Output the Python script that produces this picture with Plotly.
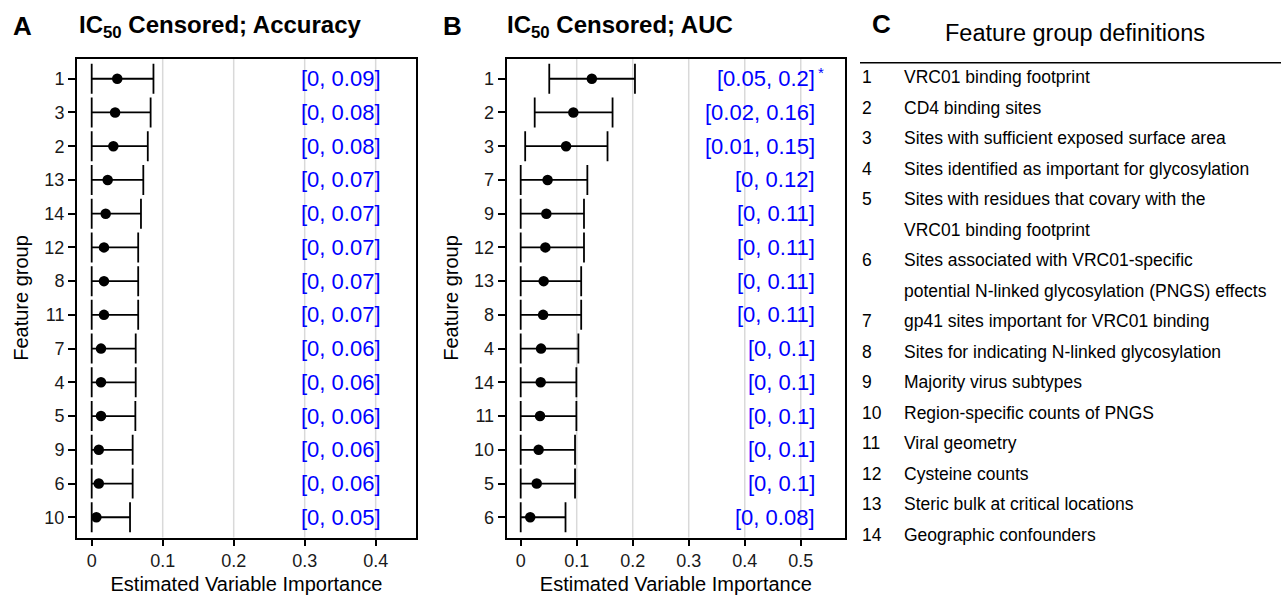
import plotly.graph_objects as go

W, H = 1281, 595
FONT = "Liberation Sans, Arial, Helvetica, sans-serif"

# ---------------- data ----------------
# Panel A : IC50 censored; accuracy (rows top -> bottom)
a_groups = ["1", "3", "2", "13", "14", "12", "8", "11", "7", "4", "5", "9", "6", "10"]
a_est = [0.036, 0.033, 0.0305, 0.0225, 0.0197, 0.0173, 0.0173, 0.0173, 0.0131, 0.0131, 0.0131, 0.010, 0.010, 0.0066]
a_lower = [0, 0, 0, 0, 0, 0, 0, 0, 0, 0, 0, 0, 0, 0]
a_upper = [0.087, 0.083, 0.079, 0.0727, 0.0694, 0.0655, 0.0655, 0.0655, 0.062, 0.062, 0.0615, 0.0577, 0.0577, 0.054]
a_labels = ["[0, 0.09]", "[0, 0.08]", "[0, 0.08]", "[0, 0.07]", "[0, 0.07]", "[0, 0.07]", "[0, 0.07]",
            "[0, 0.07]", "[0, 0.06]", "[0, 0.06]", "[0, 0.06]", "[0, 0.06]", "[0, 0.06]", "[0, 0.05]"]
a_stars = ["", "", "", "", "", "", "", "", "", "", "", "", "", ""]

# Panel B : IC50 censored; AUC
b_groups = ["1", "2", "3", "7", "9", "12", "13", "8", "4", "14", "11", "10", "5", "6"]
b_est = [0.127, 0.094, 0.081, 0.048, 0.0458, 0.044, 0.041, 0.040, 0.0363, 0.0357, 0.0345, 0.032, 0.0286, 0.017]
b_lower = [0.051, 0.025, 0.008, 0, 0, 0, 0, 0, 0, 0, 0, 0, 0, 0]
b_upper = [0.204, 0.164, 0.155, 0.119, 0.113, 0.113, 0.108, 0.108, 0.103, 0.0994, 0.0994, 0.097, 0.097, 0.080]
b_labels = ["[0.05, 0.2]", "[0.02, 0.16]", "[0.01, 0.15]", "[0, 0.12]", "[0, 0.11]", "[0, 0.11]", "[0, 0.11]",
            "[0, 0.11]", "[0, 0.1]", "[0, 0.1]", "[0, 0.1]", "[0, 0.1]", "[0, 0.1]", "[0, 0.08]"]
b_stars = ["*", "", "", "", "", "", "", "", "", "", "", "", "", ""]

a_ticks = [0, 0.1, 0.2, 0.3, 0.4]
b_ticks = [0, 0.1, 0.2, 0.3, 0.4, 0.5]
a_grid = [0.1, 0.2, 0.3, 0.4]
b_grid = [0.1, 0.2, 0.3, 0.4, 0.5]

# Panel C : definitions
def_ids = ["1", "2", "3", "4", "5", "6", "7", "8", "9", "10", "11", "12", "13", "14"]
def_lines = [
    ["VRC01 binding footprint"],
    ["CD4 binding sites"],
    ["Sites with sufficient exposed surface area"],
    ["Sites identified as important for glycosylation"],
    ["Sites with residues that covary with the", "VRC01 binding footprint"],
    ["Sites associated with VRC01-specific", "potential N-linked glycosylation (PNGS) effects"],
    ["gp41 sites important for VRC01 binding"],
    ["Sites for indicating N-linked glycosylation"],
    ["Majority virus subtypes"],
    ["Region-specific counts of PNGS"],
    ["Viral geometry"],
    ["Cysteine counts"],
    ["Steric bulk at critical locations"],
    ["Geographic confounders"],
]

# ---------------- layout helpers ----------------
def px_x(p):
    return p / W

def px_y(p):
    return 1 - p / H

TOP, BOT = 58.5, 537.5
panels = [
    dict(groups=a_groups, est=a_est, lo=a_lower, hi=a_upper, labels=a_labels, stars=a_stars,
         ticks=a_ticks, grid=a_grid, dom=(77, 416), rng=(-0.0207, 0.4568), lab_x=0.41,
         letter="A", letter_x=11, title="IC<sub>50</sub> Censored; Accuracy", title_x=77),
    dict(groups=b_groups, est=b_est, lo=b_lower, hi=b_upper, labels=b_labels, stars=b_stars,
         ticks=b_ticks, grid=b_grid, dom=(506.7, 845), rng=(-0.025, 0.579), lab_x=0.5286,
         letter="B", letter_x=441, title="IC<sub>50</sub> Censored; AUC", title_x=505),
]

fig = go.Figure()
annotations = []
shapes = []

for i, p in enumerate(panels, start=1):
    xa = "x" if i == 1 else f"x{i}"
    ya = "y" if i == 1 else f"y{i}"
    xkey = "xaxis" if i == 1 else f"xaxis{i}"
    ykey = "yaxis" if i == 1 else f"yaxis{i}"

    plus = [h - e for h, e in zip(p["hi"], p["est"])]
    minus = [e - l for e, l in zip(p["est"], p["lo"])]
    fig.add_trace(go.Scatter(
        x=p["est"], y=p["groups"], mode="markers", xaxis=xa, yaxis=ya,
        marker=dict(color="black", size=10.5),
        error_x=dict(type="data", symmetric=False, array=plus, arrayminus=minus,
                     color="black", thickness=1.8, width=15),
        showlegend=False, hoverinfo="skip"))

    n = len(p["groups"])
    fig.update_layout({
        xkey: dict(domain=[px_x(p["dom"][0]), px_x(p["dom"][1])], range=list(p["rng"]),
                   anchor=ya, tickvals=p["ticks"], ticktext=[f"{t:g}" for t in p["ticks"]],
                   showgrid=False, zeroline=False, showline=True, mirror=True,
                   linecolor="black", linewidth=2, ticks="outside", ticklen=6, tickwidth=1.5,
                   tickcolor="black", tickfont=dict(size=18, color="#1a1a1a", family=FONT),
                   title=dict(text="Estimated Variable Importance", standoff=9,
                              font=dict(size=20, color="black", family=FONT))),
        ykey: dict(domain=[px_y(BOT), px_y(TOP)], anchor=xa, type="category",
                   categoryorder="array", categoryarray=p["groups"],
                   range=[n - 1 + 0.6, -0.6], showgrid=False, zeroline=False,
                   showline=True, mirror=True, linecolor="black", linewidth=2,
                   ticks="outside", ticklen=7, tickwidth=1.5, tickcolor="black",
                   tickfont=dict(size=18, color="#1a1a1a", family=FONT),
                   title=dict(text="Feature group", standoff=10,
                              font=dict(size=20, color="black", family=FONT))),
    })

    for g in p["grid"]:
        shapes.append(dict(type="line", xref=xa, yref=f"{ya} domain", x0=g, x1=g, y0=0, y1=1,
                           line=dict(color="#d9d9d9", width=1.5), layer="below"))

    # annotations on a category axis are placed by category index
    for idx, (lab, st) in enumerate(zip(p["labels"], p["stars"])):
        annotations.append(dict(xref=xa, yref=ya, x=p["lab_x"], y=idx, text=lab, showarrow=False,
                                xanchor="right", yanchor="middle",
                                font=dict(size=22, color="#0000ff", family=FONT)))
        if st:
            annotations.append(dict(xref=xa, yref=ya, x=p["lab_x"], y=idx, text=st, showarrow=False,
                                    xanchor="left", yanchor="middle", yshift=6, xshift=-1,
                                    font=dict(size=15, color="#0000ff", family=FONT)))

    annotations.append(dict(xref="paper", yref="paper", x=px_x(p["letter_x"]), y=px_y(26),
                            text=f"<b>{p['letter']}</b>", showarrow=False, xanchor="left",
                            yanchor="middle", font=dict(size=26, color="black", family=FONT)))
    annotations.append(dict(xref="paper", yref="paper", x=px_x(p["title_x"]), y=px_y(27),
                            text=f"<b>{p['title']}</b>", showarrow=False, xanchor="left",
                            yanchor="middle", font=dict(size=24, color="black", family=FONT)))

# ---------------- panel C ----------------
annotations.append(dict(xref="paper", yref="paper", x=px_x(870), y=px_y(24), text="<b>C</b>",
                        showarrow=False, xanchor="left", yanchor="middle",
                        font=dict(size=26, color="black", family=FONT)))
annotations.append(dict(xref="paper", yref="paper", x=px_x(1075), y=px_y(33),
                        text="Feature group definitions", showarrow=False, xanchor="center",
                        yanchor="middle", font=dict(size=23.5, color="black", family=FONT)))
shapes.append(dict(type="line", xref="paper", yref="paper", x0=px_x(860), x1=1,
                   y0=px_y(62.7), y1=px_y(62.7), line=dict(color="black", width=1.5)))

row_y0, row_dy = 77, 30.53
line_idx = 0
for gid, lines in zip(def_ids, def_lines):
    annotations.append(dict(xref="paper", yref="paper", x=px_x(860), y=px_y(row_y0 + line_idx * row_dy),
                            text=gid, showarrow=False, xanchor="left", yanchor="middle",
                            font=dict(size=17.5, color="black", family=FONT)))
    for ln in lines:
        annotations.append(dict(xref="paper", yref="paper", x=px_x(902),
                                y=px_y(row_y0 + line_idx * row_dy), text=ln, showarrow=False,
                                xanchor="left", yanchor="middle",
                                font=dict(size=17.5, color="black", family=FONT)))
        line_idx += 1

fig.update_layout(width=W, height=H, margin=dict(l=0, r=0, t=0, b=0),
                  paper_bgcolor="white", plot_bgcolor="white",
                  annotations=annotations, shapes=shapes,
                  font=dict(family=FONT, color="black"))

fig.write_html("out.html")
